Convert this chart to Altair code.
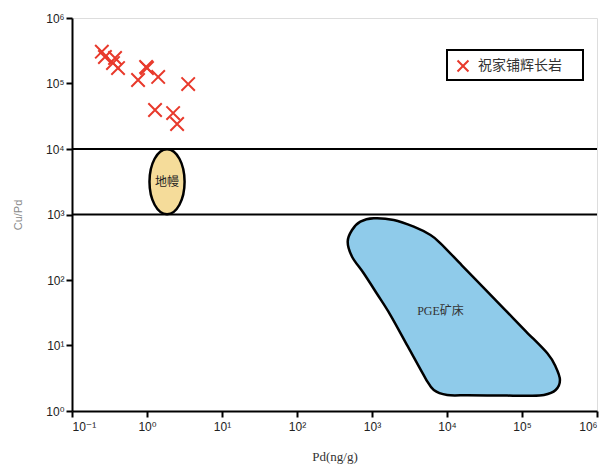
import altair as alt
import pandas as pd

# ---- data ----
pd_values = [0.25, 0.275, 0.375, 0.352, 0.411, 0.76, 0.973, 1.0, 1.41, 3.54, 1.28, 2.23, 2.52]
cupd_values = [306000, 254000, 245000, 205000, 172000, 113000, 179000, 172000, 126000, 98000,
               39400, 35400, 24100]
series_name = "祝家铺辉长岩"

boundary_levels = [1e4, 1e3]

mantle_x = [1.85]
mantle_y = [3162]
mantle_label = ["地幔"]

# outline of the PGE deposit field (Pd, Cu/Pd), clockwise
pge_x = [474, 542, 700, 1054, 1949, 3603, 6023, 8191, 15760, 30430, 58580, 112700, 217700,
         281000, 320600, 281000, 196100, 117700, 63630, 34420, 18610, 10060, 6665, 5164,
         3015, 1761, 1170, 775, 542]
pge_y = [384, 580, 777, 875, 824, 651, 486, 363, 167.6, 77.4, 35.7, 16.5, 7.6,
         4.75, 2.97, 2.09, 1.755, 1.712, 1.718, 1.73, 1.743, 1.755, 2.09, 3.16,
         9.59, 29.2, 61.1, 126.6, 226.9]
pge_label_x = [8190]
pge_label_y = [33.6]
pge_label = ["PGE矿床"]

x_tick_values = [0.1, 1, 10, 100, 1000, 1e4, 1e5, 1e6]
x_tick_labels = ["10⁻¹", "10⁰", "10¹", "10²", "10³", "10⁴", "10⁵", "10⁶"]
y_tick_values = [1, 10, 100, 1000, 1e4, 1e5, 1e6]
y_tick_labels = ["10⁰", "10¹", "10²", "10³", "10⁴", "10⁵", "10⁶"]

# ---- tables ----
pts = pd.DataFrame({"Pd": pd_values, "CuPd": cupd_values, "s": series_name})
lines = pd.DataFrame({"y": boundary_levels})
mantle = pd.DataFrame({"x": mantle_x, "y": mantle_y, "t": mantle_label})
pge = pd.DataFrame({"x": pge_x, "y": pge_y, "i": list(range(len(pge_x)))})
pge_t = pd.DataFrame({"x": pge_label_x, "y": pge_label_y, "t": pge_label})
leg = pd.DataFrame({"t": [series_name]})

W, H = 525, 393
SERIF = "Liberation Serif, Noto Sans CJK SC"
SANS = "Liberation Sans, DejaVu Sans"

def arr(lbls):
    return "[" + ",".join("'" + s + "'" for s in lbls) + "]"

x_scale = alt.Scale(type="log", domain=[0.1, 1e6], nice=False)
y_scale = alt.Scale(type="log", domain=[1, 1e6], nice=False)

x_axis = alt.Axis(values=x_tick_values,
                  labelExpr=arr(x_tick_labels) + "[round(log(datum.value)/LN10)+1]",
                  title="Pd(ng/g)", grid=False, tickSize=6, tickWidth=2, domainWidth=2,
                  domainColor="black", tickColor="black", labelFontSize=12, labelFont=SANS,
                  labelColor="#222", labelPadding=4, titleFont=SERIF, titleFontSize=13,
                  titleFontWeight="normal", titleColor="#333", titlePadding=18)
y_axis = alt.Axis(values=y_tick_values,
                  labelExpr=arr(y_tick_labels) + "[round(log(datum.value)/LN10)]",
                  title="Cu/Pd", grid=False, tickSize=6, tickWidth=2, domainWidth=2,
                  domainColor="black", tickColor="black", labelFontSize=12, labelFont=SANS,
                  labelColor="#222", labelPadding=2, titleFont=SANS, titleFontSize=11,
                  titleFontWeight="normal", titleColor="#888", titlePadding=22)

X_SHAPE = "M-1,-1L1,1M1,-1L-1,1"
ELLIPSE = "M-0.54,0A0.54,1,0,1,0,0.54,0A0.54,1,0,1,0,-0.54,0Z"

pge_poly = alt.Chart(pge).mark_line(
    interpolate="cardinal-closed", fill="#8fcbea", stroke="black", strokeWidth=2.5
).encode(
    x=alt.X("x:Q", scale=x_scale, axis=x_axis),
    y=alt.Y("y:Q", scale=y_scale, axis=y_axis),
    order="i:Q",
)

pge_text = alt.Chart(pge_t).mark_text(font=SERIF, fontSize=12, color="#333").encode(
    x=alt.X("x:Q", scale=x_scale), y=alt.Y("y:Q", scale=y_scale), text="t:N")

rules = alt.Chart(lines).mark_rule(color="black", strokeWidth=2).encode(
    y=alt.Y("y:Q", scale=y_scale))

mantle_shape = alt.Chart(mantle).mark_point(
    shape=ELLIPSE, size=65 * 65, filled=True, fill="#f5dc9a", stroke="black",
    strokeWidth=2.5, opacity=1
).encode(x=alt.X("x:Q", scale=x_scale), y=alt.Y("y:Q", scale=y_scale))

mantle_text = alt.Chart(mantle).mark_text(font=SERIF, fontSize=12, color="#222").encode(
    x=alt.X("x:Q", scale=x_scale), y=alt.Y("y:Q", scale=y_scale), text="t:N")

points = alt.Chart(pts).mark_point(
    shape=X_SHAPE, size=180, filled=False, color="#e8392b", strokeWidth=2, opacity=1
).encode(x=alt.X("Pd:Q", scale=x_scale), y=alt.Y("CuPd:Q", scale=y_scale))

leg_box = alt.Chart(leg).mark_rect(fill="white", stroke="black", strokeWidth=2).encode(
    x=alt.value(375), x2=alt.value(511), y=alt.value(32), y2=alt.value(62))
leg_sym = alt.Chart(leg).mark_point(
    shape=X_SHAPE, size=120, filled=False, color="#e8392b", strokeWidth=2, opacity=1
).encode(x=alt.value(391), y=alt.value(48))
leg_txt = alt.Chart(leg).mark_text(
    align="left", baseline="middle", font="Noto Sans CJK SC", fontSize=14, color="#333"
).encode(x=alt.value(406), y=alt.value(48), text="t:N")

chart = alt.layer(
    pge_poly, pge_text, rules, mantle_shape, mantle_text, points, leg_box, leg_sym, leg_txt
).properties(
    width=W, height=H,
    autosize=alt.AutoSizeParams(type="none"),
    padding={"left": 72, "top": 18, "right": 17, "bottom": 57},
).configure_view(stroke="black", strokeWidth=2).configure(background="white")

chart.save("out.html", embed_options={"renderer": "svg", "actions": False})
